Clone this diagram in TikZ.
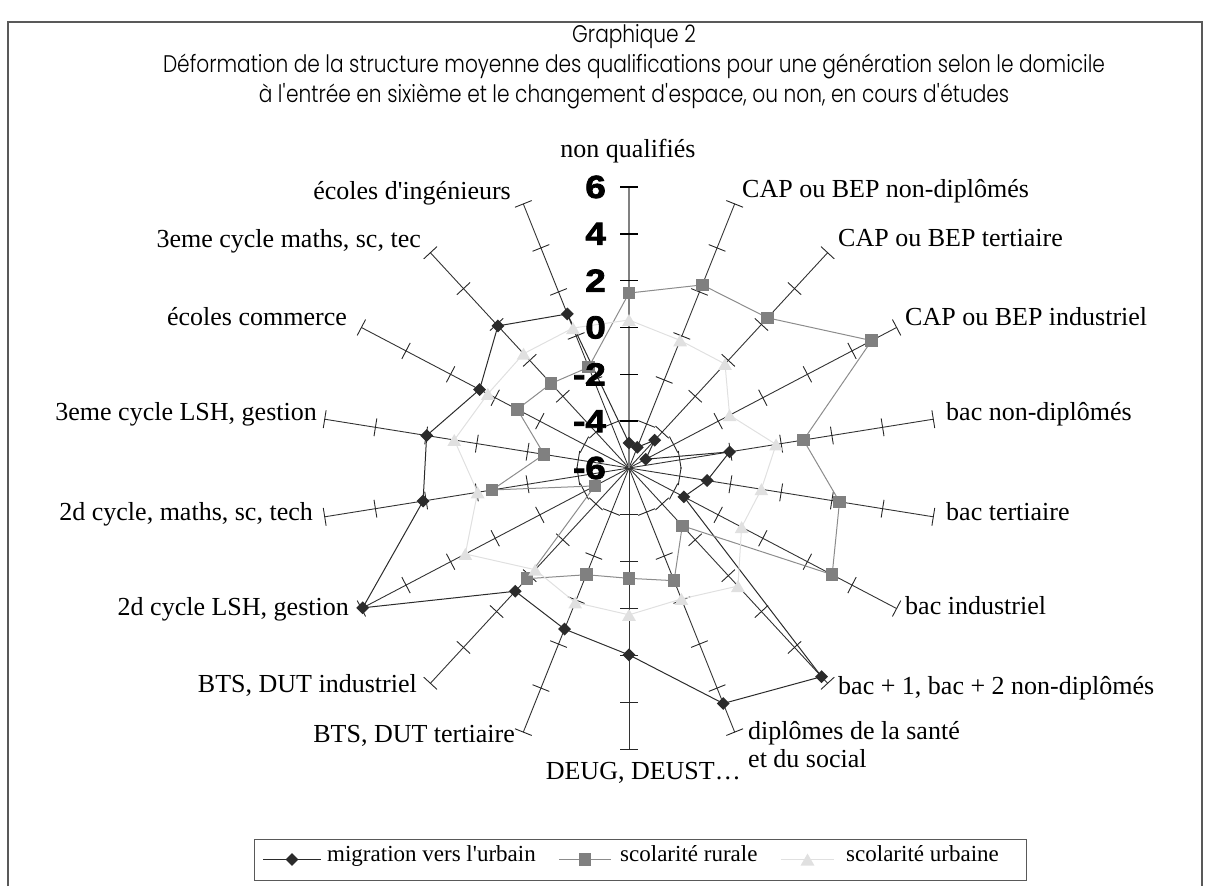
\documentclass[tikz,border=0pt]{standalone}
\usepackage{fontspec}
\setmainfont{Liberation Serif}
\newfontfamily\titlefont[FakeStretch=0.84]{Poppins Light}
\newfontfamily\numfont[FakeStretch=1.15, FakeBold=2.5]{Liberation Sans}
\usetikzlibrary{calc,shapes.geometric}
\definecolor{migc}{gray}{0.17}
\definecolor{rurc}{gray}{0.5}
\definecolor{urbc}{gray}{0.88}
\definecolor{framec}{gray}{0.35}
\newcommand{\q}{\textquotesingle}
\begin{document}
\begin{tikzpicture}[x=1pt, y=-1pt,
    lbl/.style={font=\fontsize{26}{28}\selectfont, inner sep=0pt, text height=0.68em, text depth=0.2em},
    num/.style={font=\numfont\bfseries\fontsize{32}{34}\selectfont, inner sep=0pt, anchor=east},
    ttl/.style={font=\titlefont\fontsize{24}{26}\selectfont, inner sep=0pt},
    leg/.style={font=\fontsize{23}{25}\selectfont, inner sep=0pt, text height=0.68em, text depth=0.2em, anchor=west},
    spoke/.style={draw=black!80, line width=0.9pt},
    axtick/.style={draw=black!85, line width=0.9pt},
    mig/.style={diamond, fill=migc, inner sep=0pt, minimum width=13pt, minimum height=13pt},
    rur/.style={rectangle, fill=rurc, inner sep=0pt, minimum size=12.5pt},
    urb/.style={regular polygon, regular polygon sides=3, fill=urbc, inner sep=0pt, minimum size=16pt, yshift=-2pt},
    migline/.style={draw=migc, line width=1pt},
    rurline/.style={draw=black!45, line width=1pt},
    urbline/.style={draw=urbc, line width=1pt}]
  \useasboundingbox (0,0) rectangle (1206,886);
  \draw[framec, line width=1.5pt] (8,886) -- (8,22) -- (1202,22) -- (1202,886);

  %title
  \node[ttl] (t1) at (634,37) {Graphique 2};
  \node[ttl] (t2) at (634,66) {Déformation de la structure moyenne des qualifications pour une génération selon le domicile};
  \node[ttl] (t3) at (634,96) {à l\q entrée en sixième et le changement d\q espace, ou non, en cours d\q études};

  \begin{scope}[shift={(629,468)}, x=25.75pt, y=23.42pt]
    %spokes and ticks
    \foreach \i in {1,...,17} {
      \draw[spoke] (0,0) -- ({90-20*\i}:12);
      \foreach \k in {2,4,...,12}
        \draw[axtick] ($({90-20*\i}:\k)!9pt!90:({90-20*\i}:\k+1)$) -- ($({90-20*\i}:\k)!9pt!-90:({90-20*\i}:\k+1)$);
    }
    \draw[black!50, line width=1.4pt] (0,0) -- (0,12);
    \foreach \k in {2,4,...,12}
      \draw[black, line width=1.5pt] ($(0,\k)+(-9pt,0)$) -- ($(0,\k)+(9pt,0)$);

    %data
    \foreach \v [count=\i from 0] in {-4.93,-5.06,-4.45,-5.25,-2.03,-2.92,-3.54,5.63,4.70,1.98,1.32,0.87,5.94,2.12,1.98,0.70,1.92,1.00}
      \coordinate (m\i) at ({90-20*\i}:{\v+6});
    \foreach \v [count=\i from 0] in {1.47,2.32,2.37,4.88,0.88,2.30,3.11,-2.78,-0.88,-1.29,-1.15,0.17,-4.47,-0.60,-2.65,-0.99,-1.29,-1.42}
      \coordinate (r\i) at ({90-20*\i}:{\v+6});
    \foreach \v [count=\i from 0] in {0.32,-0.20,-0.20,-1.49,-0.20,-0.78,-0.95,0.58,-0.05,0.27,0.11,-0.33,1.34,-0.03,0.89,0.33,0.37,0.36}
      \coordinate (u\i) at ({90-20*\i}:{\v+6});

    %series
    \draw[migline] (m0) \foreach \i in {1,...,17} {-- (m\i)} -- cycle;
    \foreach \i in {0,...,17} \node[mig] (mk\i) at (m\i) {};
    \draw[rurline] (r0) \foreach \i in {1,...,17} {-- (r\i)} -- cycle;
    \foreach \i in {0,...,17} \node[rur] (rk\i) at (r\i) {};
    \draw[urbline] (u0) \foreach \i in {1,...,17} {-- (u\i)} -- cycle;
    \foreach \i in {0,...,17} \node[urb] (uk\i) at (u\i) {};

    %value axis
    \foreach \k in {0,2,...,12} {
      \pgfmathtruncatemacro\val{\k-6}
      \node[num, xshift=-23pt] (n\k) at (0,\k) {\val};
    }
  \end{scope}

  %categories
  \node[lbl] (c0) at (628,155) {non qualifiés};
  \node[lbl, anchor=west] (c1) at (742,195) {CAP ou BEP non-diplômés};
  \node[lbl, anchor=west] (c2) at (838,244) {CAP ou BEP tertiaire};
  \node[lbl, anchor=west] (c3) at (905,323) {CAP ou BEP industriel};
  \node[lbl, anchor=west] (c4) at (946,418) {bac non-diplômés};
  \node[lbl, anchor=west] (c5) at (946,518) {bac tertiaire};
  \node[lbl, anchor=west] (c6) at (905,612) {bac industriel};
  \node[lbl, anchor=west] (c7) at (838,692) {bac + 1, bac + 2 non-diplômés};
  \node[lbl, anchor=west] (c8) at (748,737) {diplômes de la santé};
  \node[lbl, anchor=west] (c8b) at (748,765) {et du social};
  \node[lbl, anchor=east] (c9) at (741,777) {DEUG, DEUST…};
  \node[lbl, anchor=east] (c10) at (515,740) {BTS, DUT tertiaire};
  \node[lbl, anchor=east] (c11) at (417,690) {BTS, DUT industriel};
  \node[lbl, anchor=east] (c12) at (349,613) {2d cycle LSH, gestion};
  \node[lbl, anchor=east] (c13) at (313,518) {2d cycle, maths, sc, tech};
  \node[lbl, anchor=east] (c14) at (317,418) {3eme cycle LSH, gestion};
  \node[lbl, anchor=east] (c15) at (347,323) {écoles commerce};
  \node[lbl, anchor=east] (c16) at (421,245) {3eme cycle maths, sc, tec};
  \node[lbl, anchor=east] (c17) at (511,197) {écoles d\q ingénieurs};

  %legend
  \draw[framec, line width=1pt] (254,839) rectangle (1026,880);
  \coordinate (k1a) at (263,859.5); \coordinate (k1b) at (321,859.5);
  \coordinate (k2a) at (559,859.5); \coordinate (k2b) at (611,859.5);
  \coordinate (k3a) at (781,859.5); \coordinate (k3b) at (834,859.5);
  \draw[migline] (k1a) -- (k1b);
  \node[mig] (lk1) at ($(k1a)!0.5!(k1b)$) {};
  \node[leg] (l1) at (327,859.5) {migration vers l\q urbain};
  \draw[rurline] (k2a) -- (k2b);
  \node[rur] (lk2) at ($(k2a)!0.5!(k2b)$) {};
  \node[leg] (l2) at (620,859.5) {scolarité rurale};
  \draw[urbline] (k3a) -- (k3b);
  \node[urb] (lk3) at ($(k3a)!0.5!(k3b)$) {};
  \node[leg] (l3) at (846,859.5) {scolarité urbaine};
\end{tikzpicture}
\end{document}
